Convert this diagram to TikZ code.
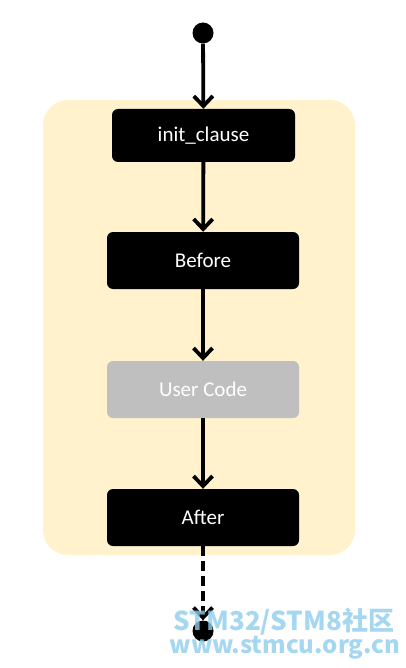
\documentclass[tikz,border=0pt]{standalone}
\usepackage{fontspec}
\setmainfont{Carlito}
\newfontfamily\wmfont{Noto Sans CJK SC}
\usetikzlibrary{arrows.meta}
\definecolor{bgyellow}{HTML}{FFF2CC}
\definecolor{boxgray}{HTML}{BFBFBF}
\definecolor{wmblue}{HTML}{8ECDEE}
\tikzset{
  stepbox/.style={fill=black, text=white, rounded corners=6pt, inner sep=0pt, font=\fontsize{21}{24}\selectfont},
  greybox/.style={stepbox, fill=boxgray},
  flow/.style={line width=3.8pt, -{Straight Barb[length=10pt, width=19pt, line width=3.8pt]}},
  dot/.style={circle, fill=black, inner sep=0pt, minimum size=21pt},
}
\begin{document}
\begin{tikzpicture}[x=1pt, y=-1pt]
\useasboundingbox (0,0) rectangle (405,668);
\fill[bgyellow, rounded corners=25pt] (43,100) rectangle (355,555);
\node[dot] (start) at (203,33) {};
\node[stepbox, minimum width=183pt, minimum height=53pt] (init) at (203.5,135.5) {init\_clause};
\node[stepbox, minimum width=192pt, minimum height=57pt] (before) at (203,260.5) {Before};
\node[greybox, minimum width=192pt, minimum height=57pt] (user) at (203,389.5) {User Code};
\node[stepbox, minimum width=192pt, minimum height=57pt] (after) at (203,517.5) {After};
\node[dot] (end) at (203,631) {};
\draw[flow] (start) -- (init);
\draw[flow] (init) -- (before);
\draw[flow] (before) -- (user);
\draw[flow] (user) -- (after);
\draw[flow, dash pattern=on 10pt off 5pt] (after) -- (end);
\node[text=wmblue, opacity=0.8, font=\wmfont\bfseries\fontsize{26}{28}\selectfont, inner sep=0pt] (wm1) at (284,622) {STM32/STM8社区};
\node[text=wmblue, opacity=0.8, font=\wmfont\bfseries\fontsize{24}{26}\selectfont, inner sep=0pt] (wm2) at (285,648) {www.stmcu.org.cn};
\end{tikzpicture}
\end{document}
